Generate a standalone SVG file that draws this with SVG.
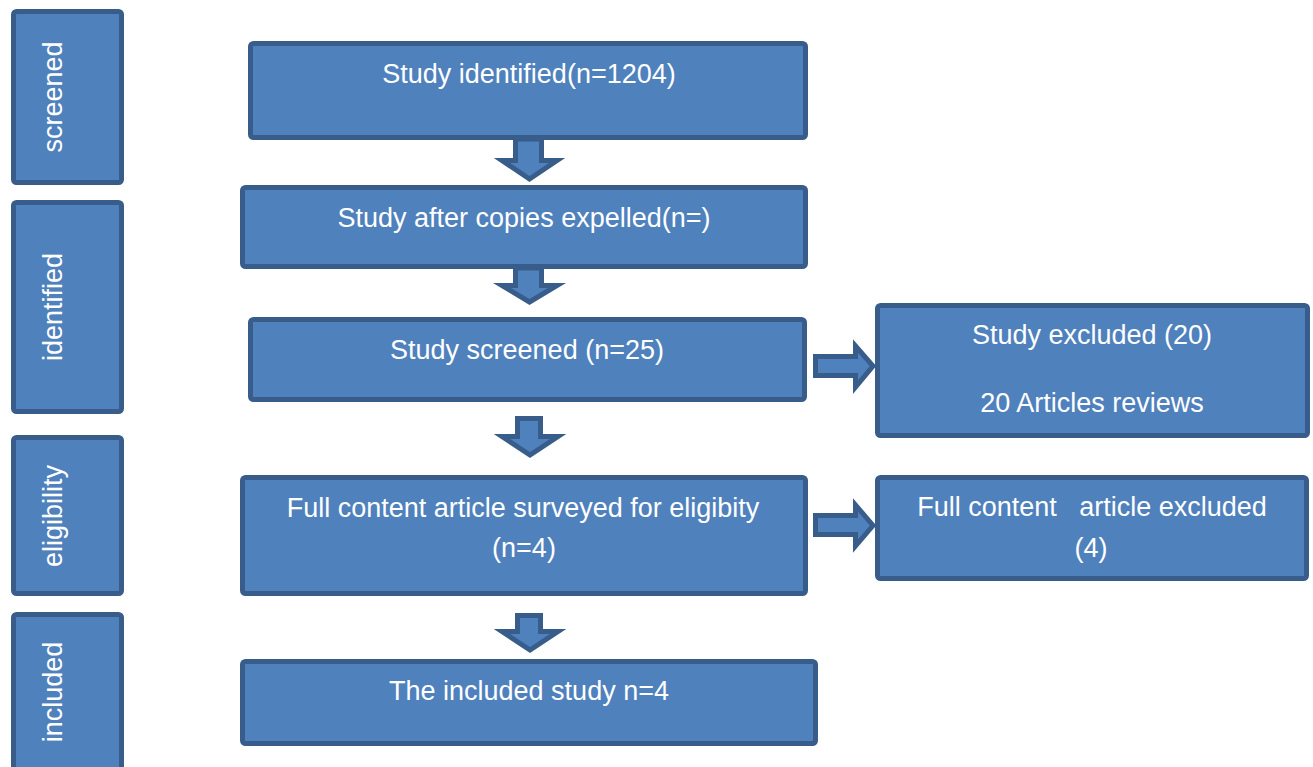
<svg xmlns="http://www.w3.org/2000/svg" width="1313" height="767" viewBox="0 0 1313 767">
<style>
.box{fill:#4F81BD;stroke:#385D8A;stroke-width:5}
.arr{fill:#4F81BD;stroke:#385D8A;stroke-width:5;stroke-linejoin:miter}
.t{font-family:"Liberation Sans",Arial,sans-serif;font-size:27px;fill:#FFFFFF;text-anchor:middle}
</style>
<rect width="1313" height="767" fill="#FFFFFF"/>
<g id="stage-screened"><rect class="box" x="13.5" y="11.5" width="108" height="171" rx="3"/><text class="t" transform="translate(62,97) rotate(-90)">screened</text></g>
<g id="stage-identified"><rect class="box" x="13.5" y="202.5" width="108" height="209" rx="3"/><text class="t" transform="translate(62,307) rotate(-90)">identified</text></g>
<g id="stage-eligibility"><rect class="box" x="13.5" y="437.5" width="108" height="156" rx="3"/><text class="t" transform="translate(62,516) rotate(-90)">eligibility</text></g>
<g id="stage-included"><rect class="box" x="13.5" y="614.5" width="108" height="170" rx="3"/><text class="t" transform="translate(62,692) rotate(-90)">included</text></g>
<g id="connectors">
<polygon class="arr" points="515.5,139 541.5,139 541.5,160.5 557,160.5 529.5,179 502,160.5 515.5,160.5"/>
<polygon class="arr" points="515.5,268 541.5,268 541.5,285.5 557,285.5 529.5,302 502,285.5 515.5,285.5"/>
<polygon class="arr" points="517.5,418.5 540.5,418.5 540.5,436.5 558,436.5 530,455 502,436.5 517.5,436.5"/>
<polygon class="arr" points="517.5,615.5 540.5,615.5 540.5,631.5 558,631.5 530,650 502,631.5 517.5,631.5"/>
<polygon class="arr" points="815.5,356.5 855.5,356.5 855.5,346 873,366 855.5,387 855.5,375.5 815.5,375.5"/>
<polygon class="arr" points="815.5,515.5 855.5,515.5 855.5,505 873,525.5 855.5,546 855.5,534.5 815.5,534.5"/>
</g>
<g id="n1"><rect class="box" x="250.5" y="43.5" width="555" height="94" rx="3"/><text class="t" x="529" y="83">Study identified(n=1204)</text></g>
<g id="n2"><rect class="box" x="242.5" y="187.5" width="563" height="79" rx="3"/><text class="t" x="524" y="227">Study after copies expelled(n=)</text></g>
<g id="n3"><rect class="box" x="250.5" y="319.5" width="554" height="80" rx="3"/><text class="t" x="527" y="359">Study screened (n=25)</text></g>
<g id="n3-excluded"><rect class="box" x="877.5" y="305.5" width="430" height="130" rx="3"/><text class="t" x="1092" y="344">Study excluded (20)</text><text class="t" x="1092" y="412">20 Articles reviews</text></g>
<g id="n4"><rect class="box" x="242.5" y="477.5" width="563" height="116" rx="3"/><text class="t" x="523" y="517">Full content article surveyed for eligibity</text><text class="t" x="524" y="557">(n=4)</text></g>
<g id="n4-excluded"><rect class="box" x="877.5" y="477.5" width="429" height="101" rx="3"/><text class="t" x="1092" y="516" style="white-space:pre" xml:space="preserve">Full content   article excluded</text><text class="t" x="1091" y="557">(4)</text></g>
<g id="n5"><rect class="box" x="242.5" y="661.5" width="573" height="82" rx="3"/><text class="t" x="529" y="700">The included study n=4</text></g>
</svg>
